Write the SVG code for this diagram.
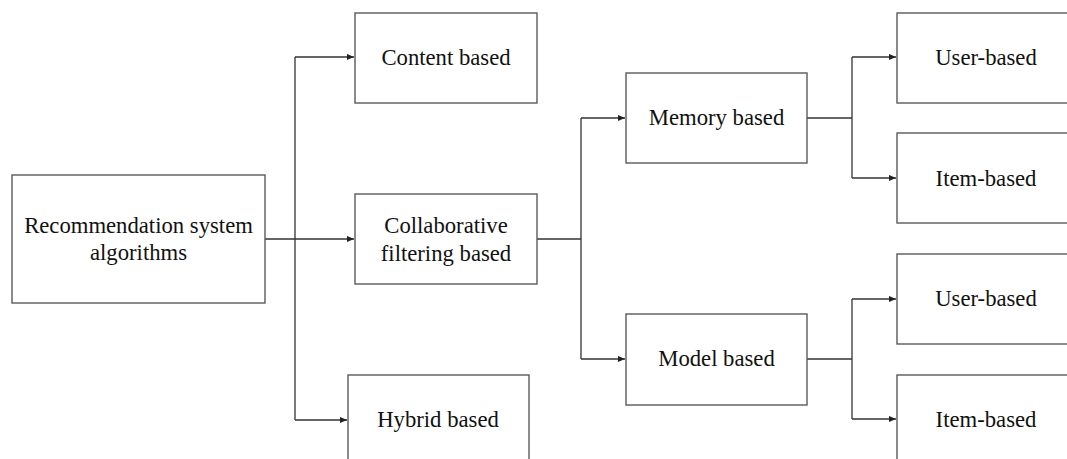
<svg xmlns="http://www.w3.org/2000/svg" width="1067" height="459" viewBox="0 0 1067 459">
  <defs>
    <marker id="arrow" viewBox="0 0 8 8" refX="8" refY="4" markerWidth="7" markerHeight="7" markerUnits="userSpaceOnUse" orient="auto">
      <path d="M0,0.5 L8,4 L0,7.5 Z" fill="#222"/>
    </marker>
    <style>
      .box { fill: #ffffff; stroke: #5a5a5a; stroke-width: 1.4; }
      .lbl { font-family: "Liberation Serif", "Times New Roman", serif; font-size: 22.7px; fill: #111; text-anchor: middle; }
      .wire { fill: none; stroke: #333; stroke-width: 1.3; }
      .arr { marker-end: url(#arrow); }
    </style>
  </defs>
  <rect width="1067" height="459" fill="#ffffff"/>

  <g id="connectors">
    <!-- root to first level -->
    <line class="wire arr" x1="265" y1="239" x2="354" y2="239"/>
    <line class="wire" x1="295" y1="57" x2="295" y2="420"/>
    <line class="wire arr" x1="295" y1="57" x2="354" y2="57"/>
    <line class="wire arr" x1="295" y1="420" x2="347" y2="420"/>
    <!-- collaborative filtering to memory / model -->
    <line class="wire" x1="537" y1="239" x2="581" y2="239"/>
    <line class="wire" x1="581" y1="118" x2="581" y2="359"/>
    <line class="wire arr" x1="581" y1="118" x2="625" y2="118"/>
    <line class="wire arr" x1="581" y1="359" x2="625" y2="359"/>
    <!-- memory based split -->
    <line class="wire" x1="807" y1="118" x2="852" y2="118"/>
    <line class="wire" x1="852" y1="57" x2="852" y2="178"/>
    <line class="wire arr" x1="852" y1="57" x2="896" y2="57"/>
    <line class="wire arr" x1="852" y1="178" x2="896" y2="178"/>
    <!-- model based split -->
    <line class="wire" x1="807" y1="359" x2="852" y2="359"/>
    <line class="wire" x1="852" y1="299" x2="852" y2="419"/>
    <line class="wire arr" x1="852" y1="299" x2="896" y2="299"/>
    <line class="wire arr" x1="852" y1="419" x2="896" y2="419"/>
  </g>

  <g id="root">
    <rect class="box" x="12" y="175" width="253" height="128"/>
    <text class="lbl" x="138.5" y="233">Recommendation system</text>
    <text class="lbl" x="138.5" y="260">algorithms</text>
  </g>

  <g id="content-based">
    <rect class="box" x="355" y="13" width="182" height="90"/>
    <text class="lbl" x="446" y="65">Content based</text>
  </g>

  <g id="collaborative">
    <rect class="box" x="355" y="194" width="182" height="90"/>
    <text class="lbl" x="446" y="233">Collaborative</text>
    <text class="lbl" x="446" y="261">filtering based</text>
  </g>

  <g id="hybrid-based">
    <rect class="box" x="348" y="375" width="181" height="92"/>
    <text class="lbl" x="438" y="427">Hybrid based</text>
  </g>

  <g id="memory-based">
    <rect class="box" x="626" y="73" width="181" height="90"/>
    <text class="lbl" x="716.5" y="125">Memory based</text>
  </g>

  <g id="model-based">
    <rect class="box" x="626" y="314" width="181" height="91"/>
    <text class="lbl" x="716.5" y="366">Model based</text>
  </g>

  <g id="memory-user">
    <rect class="box" x="897" y="13" width="180" height="90"/>
    <text class="lbl" x="986" y="65">User-based</text>
  </g>

  <g id="memory-item">
    <rect class="box" x="897" y="133" width="180" height="90"/>
    <text class="lbl" x="986" y="186">Item-based</text>
  </g>

  <g id="model-user">
    <rect class="box" x="897" y="254" width="180" height="90"/>
    <text class="lbl" x="986" y="306">User-based</text>
  </g>

  <g id="model-item">
    <rect class="box" x="897" y="375" width="180" height="92"/>
    <text class="lbl" x="986" y="427">Item-based</text>
  </g>
</svg>
